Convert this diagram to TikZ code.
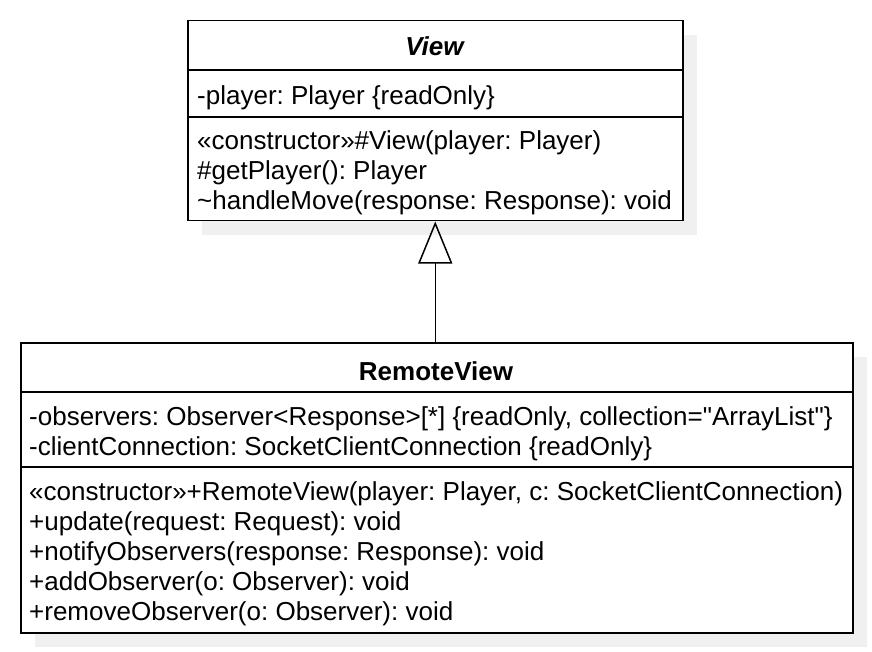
\documentclass[tikz,border=0pt]{standalone}
\usepackage{fontspec}
\setmainfont{Liberation Sans}
\usetikzlibrary{positioning,arrows.meta,shadows}
\frenchspacing

\begin{document}
\begin{tikzpicture}[x=1pt, y=-1pt,
  font=\fontsize{26}{30}\selectfont,
  class/.style={draw, line width=1.5pt, fill=white, anchor=north west, inner sep=0pt,
    drop shadow={shadow xshift=14pt, shadow yshift=-14pt, fill=black!6, opacity=1}},
  member/.style={anchor=west, inner sep=0pt, text height=0.72em, text depth=0pt},
  title/.style={member, anchor=center},
  sep/.style={line width=1.5pt},
  extends/.style={-{Triangle[open, length=42pt, width=34pt]}, line width=1.5pt}]

\useasboundingbox (0,0) rectangle (872,652);

% View
\node [class, minimum width=495pt, minimum height=200pt] (view) at (187,20) {};
\node [title, font=\fontsize{26}{30}\selectfont\bfseries\itshape] (view-name) at (434.5,52) {View};
\draw [sep] ([yshift=-50pt]view.north west) -- ([yshift=-50pt]view.north east);
\node [member] (view-attr-1) at (197,101) {-player: Player \{readOnly\}};
\draw [sep] ([yshift=-97pt]view.north west) -- ([yshift=-97pt]view.north east);
\foreach \m [count=\i] in {«constructor»\#View(player: Player),
                           \#getPlayer(): Player,
                           \textasciitilde handleMove(response: Response): void}
  \node [member] (view-op-\i) at (197,116+30*\i) {\m};

% RemoteView
\node [class, minimum width=832pt, minimum height=290pt] (remote) at (20,342) {};
\node [title, font=\fontsize{26}{30}\selectfont\bfseries] (remote-name) at (436,377) {RemoteView};
\draw [sep] ([yshift=-50pt]remote.north west) -- ([yshift=-50pt]remote.north east);
\foreach \m [count=\i] in {{-observers: Observer<Response>[*] \{readOnly, collection=\textquotedbl ArrayList\textquotedbl\}},
                           {-clientConnection: SocketClientConnection \{readOnly\}}}
  \node [member] (remote-attr-\i) at (29,392+30*\i) {\m};
\draw [sep] ([yshift=-125pt]remote.north west) -- ([yshift=-125pt]remote.north east);
\foreach \m [count=\i] in {{«constructor»+RemoteView(player: Player, c: SocketClientConnection)},
                           +update(request: Request): void,
                           +notifyObservers(response: Response): void,
                           +addObserver(o: Observer): void,
                           +removeObserver(o: Observer): void}
  \node [member] (remote-op-\i) at (29,467+30*\i) {\m};

% Generalization
\draw [extends] (view.south |- remote.north) -- (view.south);

\end{tikzpicture}
\end{document}
